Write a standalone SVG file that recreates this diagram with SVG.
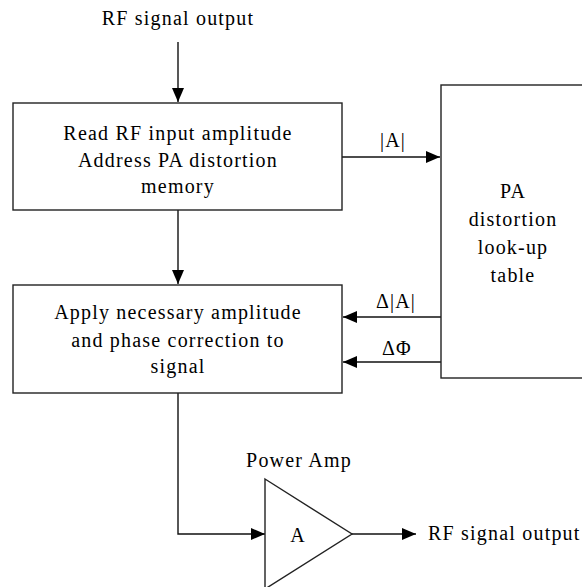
<svg xmlns="http://www.w3.org/2000/svg" width="582" height="587" viewBox="0 0 582 587">
<style>
text{font-family:"Liberation Serif","Times New Roman",serif;font-size:20px;fill:#000;letter-spacing:1.2px;text-anchor:middle}
.start{text-anchor:start}
.box{fill:#fff;stroke:#222;stroke-width:1.4}
.con{fill:none;stroke:#111;stroke-width:1.4}
</style>
<defs>
<marker id="ah" markerUnits="userSpaceOnUse" markerWidth="15" markerHeight="13" refX="14" refY="6" orient="auto">
<path d="M0,0 L14,6 L0,12 z" fill="#000"/>
</marker>
</defs>
<rect width="582" height="587" fill="#fff"/>
<g id="connectors">
<line class="con" x1="178" y1="42" x2="178" y2="102" marker-end="url(#ah)"/>
<line class="con" x1="342" y1="157" x2="440" y2="157" marker-end="url(#ah)"/>
<line class="con" x1="441" y1="317" x2="343" y2="317" marker-end="url(#ah)"/>
<line class="con" x1="441" y1="362" x2="343" y2="362" marker-end="url(#ah)"/>
<line class="con" x1="178" y1="210" x2="178" y2="284" marker-end="url(#ah)"/>
<polyline class="con" points="178,393 178,534 265,534" marker-end="url(#ah)"/>
<line class="con" x1="352" y1="534" x2="416" y2="534" marker-end="url(#ah)"/>
<text x="393" y="147">|A|</text>
<text x="396" y="308">Δ|A|</text>
<text x="397" y="355">ΔΦ</text>
</g>
<g id="input-label">
<text x="178" y="25">RF signal output</text>
</g>
<g id="read-box">
<rect class="box" x="13" y="103" width="329" height="107"/>
<text x="178" y="140">Read RF input amplitude</text>
<text x="178" y="167">Address PA distortion</text>
<text x="178" y="193">memory</text>
</g>
<g id="apply-box">
<rect class="box" x="13" y="285" width="329" height="108"/>
<text x="178" y="319">Apply necessary amplitude</text>
<text x="178" y="347">and phase correction to</text>
<text x="178" y="373">signal</text>
</g>
<g id="lut-box">
<rect class="box" x="441" y="85" width="160" height="293"/>
<text x="513" y="198">PA</text>
<text x="513" y="226">distortion</text>
<text x="513" y="254">look-up</text>
<text x="513" y="282">table</text>
</g>
<g id="power-amp">
<polygon class="box" points="265,479 352,534 265,589"/>
<text x="298" y="542">A</text>
<text x="299" y="467">Power Amp</text>
</g>
<g id="output-label">
<text class="start" x="428" y="540">RF signal output</text>
</g>
</svg>
